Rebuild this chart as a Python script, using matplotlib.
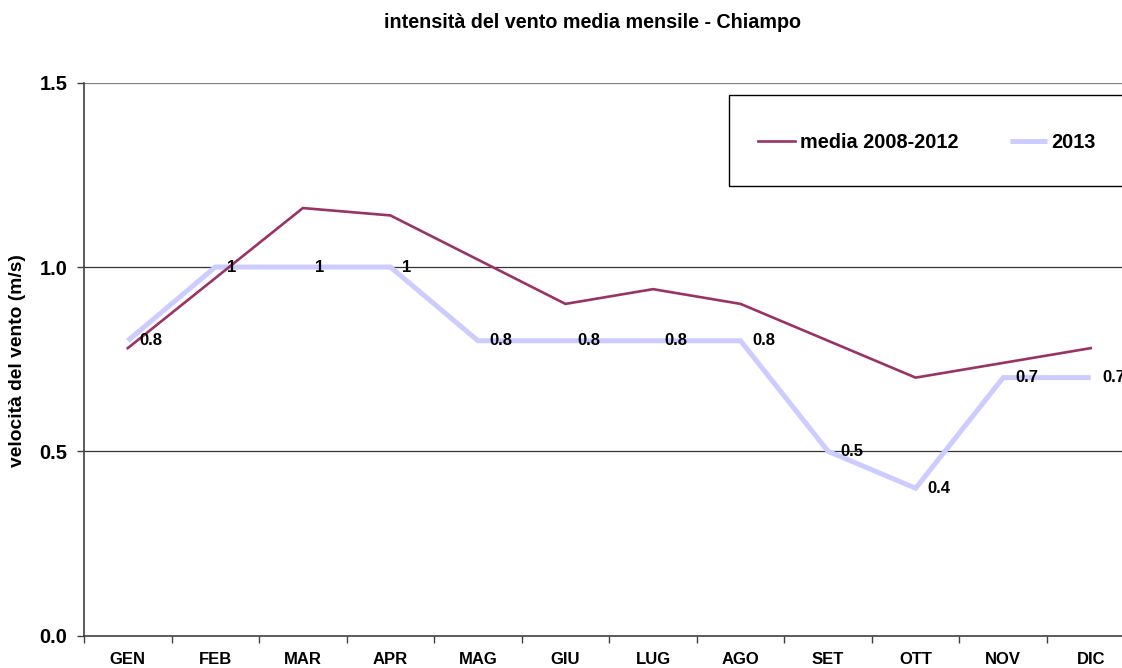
import matplotlib
matplotlib.use("Agg")
import matplotlib.pyplot as plt
from matplotlib.patches import Rectangle
import numpy as np

plt.rcParams['font.family'] = ['Liberation Sans', 'DejaVu Sans']
plt.rcParams['font.weight'] = 'bold'

mesi = ['GEN', 'FEB', 'MAR', 'APR', 'MAG', 'GIU', 'LUG', 'AGO', 'SET', 'OTT', 'NOV', 'DIC']
media_2008_2012 = [0.78, 0.97, 1.16, 1.14, 1.02, 0.90, 0.94, 0.90, 0.80, 0.70, 0.74, 0.78]
anno_2013 = [0.8, 1.0, 1.0, 1.0, 0.8, 0.8, 0.8, 0.8, 0.5, 0.4, 0.7, 0.7]
etichette_2013 = ['0.8', '1', '1', '1', '0.8', '0.8', '0.8', '0.8', '0.5', '0.4', '0.7', '0.7']

W, H = 1122, 668
fig = plt.figure(figsize=(W / 100, H / 100), dpi=100)
ax = fig.add_axes([84 / W, 1 - 635.7 / H, (1134.5 - 84) / W, (635.7 - 82.7) / H])

x = np.arange(len(mesi))
l2013, = ax.plot(x, anno_2013, color='#CCCCFF', lw=3.6, solid_capstyle='butt',
                 solid_joinstyle='miter', label='2013', zorder=3)
lmedia, = ax.plot(x, media_2008_2012, color='#993366', lw=1.9,
                  solid_joinstyle='miter', label='media 2008-2012', zorder=4)

for xi, yi, t in zip(x, anno_2013, etichette_2013):
    ax.annotate(t, (xi, yi), xytext=(8.5, 0), textcoords='offset points',
                ha='left', va='center', fontsize=12, fontweight='bold', zorder=5,
                annotation_clip=False)

ax.set_xlim(-0.5, 11.5)
ax.set_ylim(0, 1.5)
ax.set_yticks([0.0, 0.5, 1.0, 1.5])
ax.set_yticklabels(['0.0', '0.5', '1.0', '1.5'])
ax.set_xticks(x)
ax.set_xticklabels(mesi)
ax.set_xticks(np.arange(-0.5, 12, 1), minor=True)
ax.tick_params(axis='x', which='major', length=0, pad=12, labelsize=12)
ax.tick_params(axis='x', which='minor', length=5, width=1, color='#404040', direction='out')
ax.tick_params(axis='y', length=5, width=1, color='#404040', pad=7, labelsize=14.5)

for yv in [0.5, 1.0]:
    ax.axhline(yv, color='#333333', lw=0.9, zorder=1)
ax.axhline(1.5, color='#808080', lw=1.6, zorder=1)

for s in ['top', 'right']:
    ax.spines[s].set_visible(False)
for s in ['left', 'bottom']:
    ax.spines[s].set_color('#404040')
    ax.spines[s].set_linewidth(1.2)

fig.text(593 / W, 1 - 22 / H, 'intensità del vento media mensile - Chiampo',
         ha='center', va='center', fontsize=14.2, fontweight='bold')
fig.text(18 / W, 1 - 361 / H, 'velocità del vento (m/s)', rotation=90,
         ha='center', va='center', fontsize=13.9, fontweight='bold')

# riquadro legenda
fig.patches.append(Rectangle((729 / W, 1 - 186 / H), 420 / W, 91 / H,
                             transform=fig.transFigure, fill=False,
                             edgecolor='black', lw=1.0))
fig.legend(handles=[lmedia, l2013], loc='center left',
           bbox_to_anchor=(758 / W, 1 - 142 / H), ncol=2, frameon=False,
           borderpad=0, borderaxespad=0, handlelength=1.85, handletextpad=0.25,
           columnspacing=2.6, prop={'size': 14.3, 'weight': 'bold'})

fig.savefig('out.png', dpi=100)
